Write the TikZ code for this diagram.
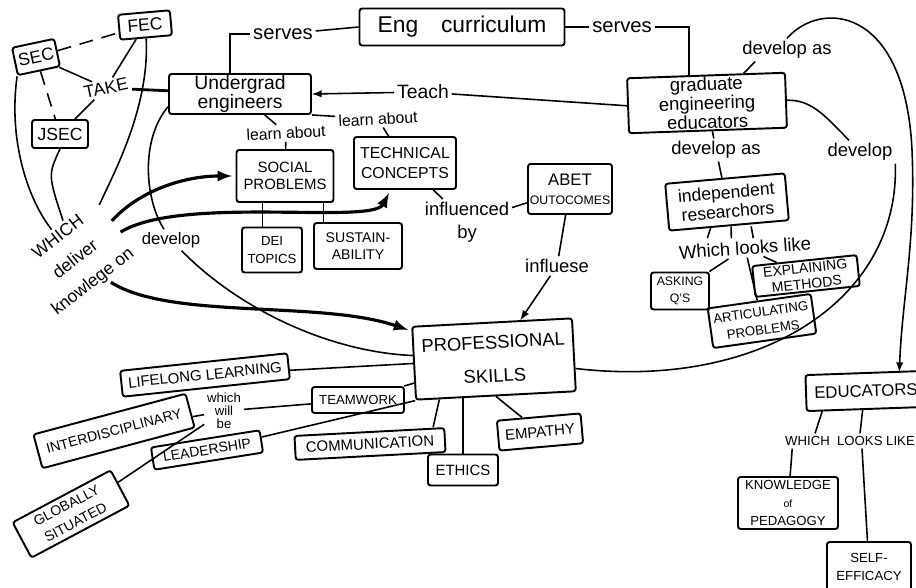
\documentclass[tikz,border=0pt]{standalone}
\usepackage{fontspec}
\setmainfont{Liberation Sans}
\usetikzlibrary{calc,arrows.meta}
\tikzset{>=latex}
\newcommand*\fsz[2]{\fontsize{#1}{#2}\selectfont}
\tikzset{
  concept/.style={draw, line width=1.1pt, rounded corners=1.5pt, align=center, inner sep=1pt, font=\fsz{8.5}{10}},
  phrase/.style={align=center, inner sep=1.5pt, font=\fsz{10.5}{11}},
  link/.style={line width=0.9pt},
  heavy/.style={line width=1.8pt, ->, shorten >=2pt}
}

\begin{document}
\begin{tikzpicture}[x=0.02cm, y=-0.02cm]
\useasboundingbox (0,0) rectangle (916,588);

% concepts
\node[concept, minimum width=4.1cm, minimum height=0.74cm, font=\fsz{13}{14}] (curr) at (462,27) {Eng\quad curriculum};
\node[concept, minimum width=2.84cm, minimum height=0.74cm, font=\fsz{11}{10.5}] (undergrad) at (240,94) {Undergrad\\engineers};
\node[concept, minimum width=3.16cm, minimum height=1.04cm, font=\fsz{10.5}{9.5}, rotate=2] (grad) at (707,103) {graduate\\engineering\\educators};
\node[concept, minimum width=1.94cm, minimum height=1.04cm] (social) at (285,176) {SOCIAL\\PROBLEMS};
\node[concept, minimum width=2.04cm, minimum height=1.04cm, font=\fsz{9}{11}] (tech) at (405,163) {TECHNICAL\\CONCEPTS};
\node[concept, minimum width=1.2cm, minimum height=0.9cm, font=\fsz{7.5}{10}] (dei) at (272,250) {DEI\\TOPICS};
\node[concept, minimum width=1.76cm, minimum height=0.92cm, font=\fsz{8}{10}] (sust) at (358,246) {SUSTAIN-\\ABILITY};
\node[concept, minimum width=1.68cm, minimum height=1.0cm, font=\fsz{7}{11}] (abet) at (570,189) {{\fsz{9.5}{11}ABET}\\OUTOCOMES};
\node[concept, minimum width=3.2cm, minimum height=1.46cm, font=\fsz{10.5}{19}, rotate=3] (prof) at (494,359) {PROFESSIONAL\\SKILLS};

\node[concept, minimum width=0.86cm, minimum height=0.56cm, font=\fsz{10}{10}, rotate=12] (sec) at (36,57) {SEC};
\node[concept, minimum width=1.04cm, minimum height=0.5cm, font=\fsz{10}{10}, rotate=5] (fec) at (145,25) {FEC};
\node[concept, minimum width=1.12cm, minimum height=0.56cm, font=\fsz{10}{10}] (jsec) at (60,134) {JSEC};

\node[concept, minimum width=3.36cm, minimum height=0.52cm, rotate=6] (lifelong) at (205,375) {LIFELONG LEARNING};
\node[concept, minimum width=3.15cm, minimum height=0.7cm, font=\fsz{8}{10}, rotate=15] (interd) at (114,431) {INTERDISCIPLINARY};
\node[concept, minimum width=2.2cm, minimum height=0.45cm, font=\fsz{8}{10}, rotate=9] (leader) at (207,450) {LEADERSHIP};
\node[concept, minimum width=1.84cm, minimum height=0.52cm, font=\fsz{7.5}{10}] (team) at (358,400) {TEAMWORK};
\node[concept, minimum width=3cm, minimum height=0.48cm, rotate=3] (comm) at (370,444) {COMMUNICATION};
\node[concept, minimum width=1.4cm, minimum height=0.62cm] (ethics) at (463,470) {ETHICS};
\node[concept, minimum width=1.68cm, minimum height=0.6cm, rotate=5] (empathy) at (540,432) {EMPATHY};
\node[concept, minimum width=2.22cm, minimum height=0.8cm, font=\fsz{8}{11}, rotate=28] (global) at (71,514) {GLOBALLY\\SITUATED};

\node[concept, minimum width=2.4cm, minimum height=0.94cm, font=\fsz{10}{11}, rotate=5] (indep) at (727,202) {independent\\researchors};
\node[concept, minimum width=1.16cm, minimum height=0.74cm, font=\fsz{7}{10}] (asking) at (680,291) {ASKING\\Q'S};
\node[concept, minimum width=2.08cm, minimum height=0.8cm, font=\fsz{7.5}{10}, rotate=8] (artic) at (762,321) {ARTICULATING\\PROBLEMS};
\node[concept, minimum width=2.1cm, minimum height=0.62cm, font=\fsz{8}{9}, rotate=6] (expl) at (806,276) {EXPLAINING\\METHODS};
\node[concept, minimum width=2.4cm, minimum height=0.72cm, font=\fsz{9.5}{10}, rotate=2] (educ) at (866,391) {EDUCATORS};
\node[concept, minimum width=2.0cm, minimum height=1.04cm, font=\fsz{7.5}{10}] (knowl) at (788,503) {KNOWLEDGE\\{\fsz{6}{10}of}\\PEDAGOGY};
\node[concept, minimum width=1.68cm, minimum height=1.0cm, font=\fsz{7.5}{10}] (self) at (869,567) {SELF-\\EFFICACY};

% linking words
\node[phrase, font=\fsz{11.5}{12}] (servesL) at (283,34) {serves};
\node[phrase, font=\fsz{11.5}{12}] (servesR) at (622,27) {serves};
\node[phrase, font=\fsz{11}{12}] (teach) at (423,92) {Teach};
\node[phrase, font=\fsz{9}{10}, rotate=3] (lrnA) at (286,133) {learn about};
\node[phrase, font=\fsz{9}{10}, rotate=3] (lrnB) at (378,119) {learn about};
\node[phrase, font=\fsz{10}{11}, rotate=12] (take) at (106,88) {TAKE};
\node[phrase, font=\fsz{10}{16}, rotate=38] (which) at (76,260) {WHICH\\deliver\\knowlege on};
\node[phrase, font=\fsz{9.5}{10}] (dev2) at (171,240) {develop};
\node[phrase, font=\fsz{10.5}{13}] (infl) at (467,222) {influenced\\by};
\node[phrase] (influ) at (557,266) {influese};
\node[phrase, font=\fsz{7.5}{7.5}] (willbe) at (224,411) {which\\will\\be};
\node[phrase] (devas1) at (716,150) {develop as};
\node[phrase] (devas2) at (787,50) {develop as};
\node[phrase] (dev1) at (860,152) {develop};
\node[phrase, rotate=4] (looks1) at (745,248) {Which looks like};
\node[phrase, font=\fsz{7.5}{8}] (looks2) at (850,441) {WHICH\ \ LOOKS LIKE};

% curriculum
\draw[link] (curr.west) -- (servesL);
\draw[link] (servesL.west) -| ($(undergrad.north)+(-10,0)$);
\draw[link] (curr.east) -- (servesR);
\draw[link] (servesR.east) -| ($(grad.north)+(-17,0)$);
\draw[link] (grad.west) -- (teach);
\draw[link, ->] (teach) -- (undergrad.east);

% undergrads
\draw[link] (undergrad) -- (lrnA);
\draw[link] (lrnA) -- (social);
\draw[link] (undergrad.south east) -- (lrnB);
\draw[link] (lrnB) -- (tech);
\draw[link] (social.-130) -- (social.-130 |- dei.north);
\draw[link] (social.-35) -- (social.-35 |- sust.north);
\draw[link] (tech) -- (infl);
\draw[link] (abet) -- (infl);
\draw[link] (abet) -- (influ);
\draw[link, ->] (influ) -- (prof);

% councils
\draw[link, dash pattern=on 8pt off 5pt] (sec) -- (fec);
\draw[link, dash pattern=on 8pt off 5pt] (sec) -- (jsec);
\draw[link] (sec) -- (take);
\draw[link] (fec) -- (take);
\draw[link] (jsec) -- (take);
\draw[line width=1.6pt] (take) -- (undergrad);
\draw[link] (sec.south west) .. controls (8,140) and (28,200) .. (which);
\draw[link] (jsec.south) .. controls (48,175) .. (which);
\draw[link] (fec.south) .. controls (150,110) and (110,180) .. (which);

\draw[heavy] (which) .. controls (140,190) and (185,176) .. (social);
\draw[heavy] (which) .. controls (180,195) and (372,225) .. (tech);
\draw[heavy] (which) .. controls (170,320) and (320,300) .. (prof);

\draw[link] (undergrad.190) .. controls (140,140) and (145,200) .. (dev2);
\draw[link] (dev2) .. controls (240,310) and (330,352) .. (prof);

% skills
\draw[link] (lifelong) -- (prof);
\draw[link] (team) -- (prof);
\draw[link] (willbe) -- (team);
\draw[link] (interd) -- (willbe);
\draw[link] (willbe) -- (global);
\draw[link] (leader) -- (prof.south west);
\draw[link] ($(prof.south west)!0.15!(prof.south east)$) -- ($(comm.north east)+(-12,0)$);
\draw[link] (prof.south -| ethics) -- (ethics);
\draw[link] (prof.south) -- (empathy);

% graduate educators
\draw[link] (grad) -- (devas1);
\draw[link] (devas1) -- (indep);
\draw[link] (grad.37) -- (devas2.-160);
\draw[link, ->] (devas2.north) .. controls (820,0) and (905,5) .. (912,150)
  .. controls (916,240) and (902,300) .. ($(educ.north)+(34,0)$);
\draw[link] (grad.east) .. controls (810,100) and (822,112) .. (dev1);
\draw[link] (dev1.south east) .. controls (900,300) and (760,390) .. (prof);

\foreach \a/\b in {-18/-37, 2/-13, 22/9}
  \draw[link] ($(indep.south)+(\a,0)$) -- ($(looks1.north)+(\b,0)$);
\draw[link] (looks1) -- (asking);
\draw[link] (looks1) -- (artic);
\draw[link] (looks1) -- (expl);

\draw[link] ($(educ.south)+(-44,0)$) -- ($(looks2.north)+(-35,0)$);
\draw[link] ($(educ.south)+(-4,0)$) -- ($(looks2.north)+(10,0)$);
\draw[link] ($(looks2.south west)+(10,0)$) -- (knowl);
\draw[link] ($(looks2.south)+(12,0)$) -- (self);
\end{tikzpicture}
\end{document}
